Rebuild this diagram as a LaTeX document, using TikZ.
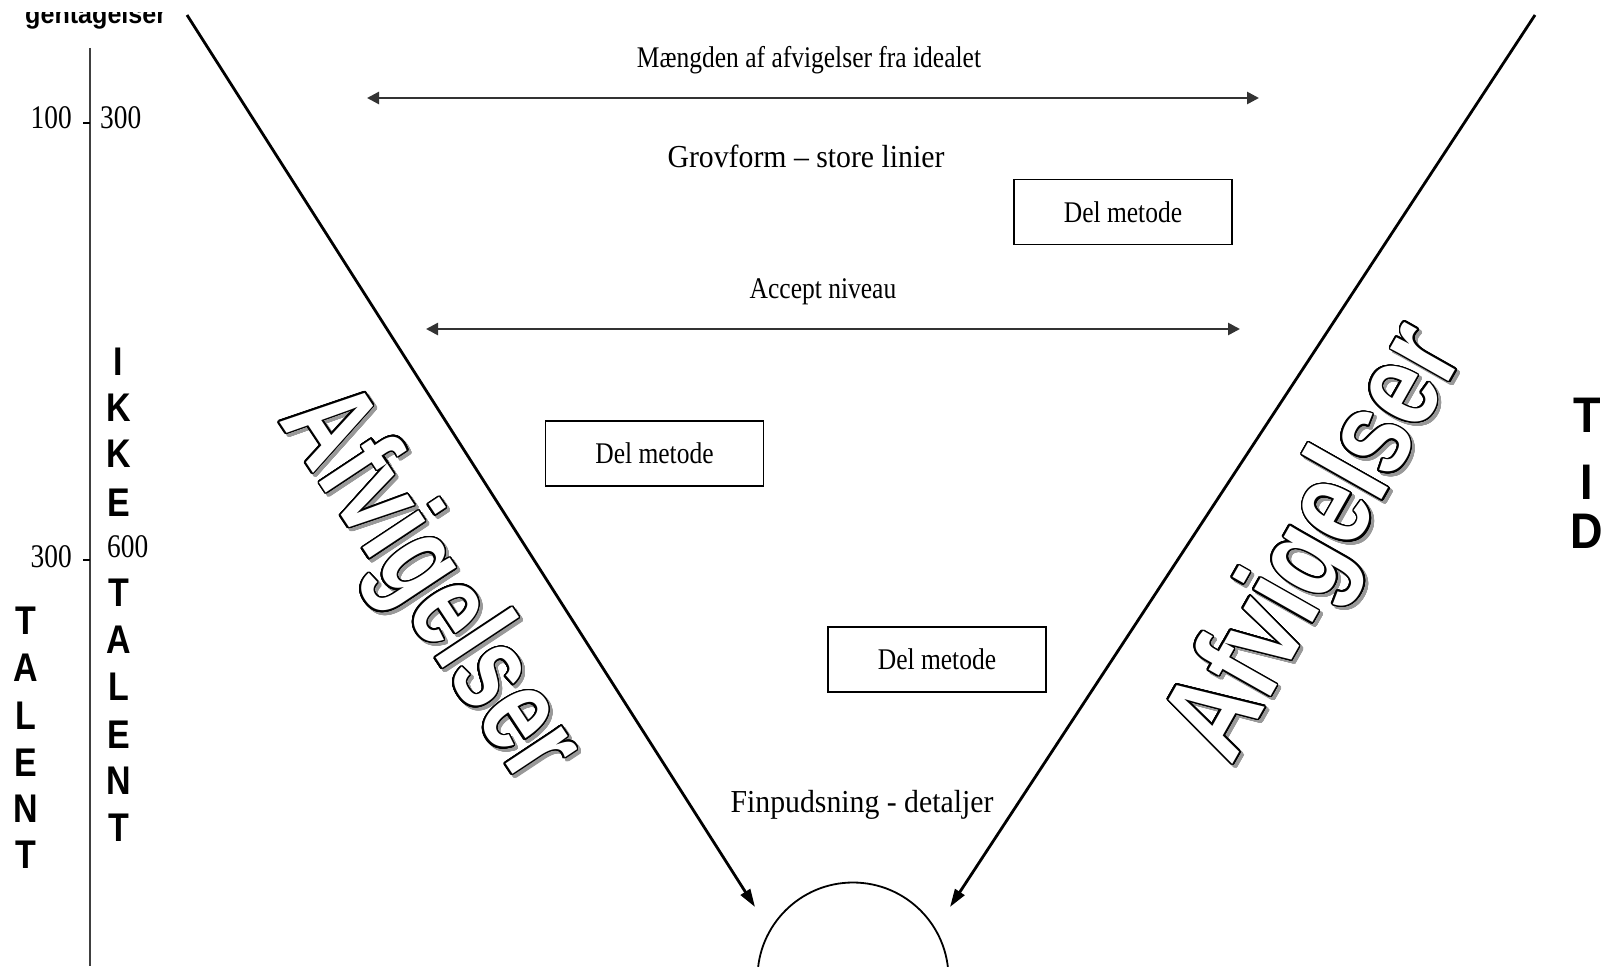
\documentclass[tikz,border=0pt]{standalone}
\usepackage{fontspec}
\setmainfont{Liberation Serif}
\newfontfamily\arial{Liberation Sans}
\usepackage{contour}
\contourlength{1.3pt}
\contournumber{32}
\usetikzlibrary{arrows.meta}
\newcommand{\cnd}[2][.85]{\scalebox{#1}[1]{#2}}
\newcommand{\wordart}[2][.94]{\scalebox{#1}[1.32]{\contour{black}{\textcolor{white}{#2}}}}
\newcommand{\wordshadow}[2][.94]{\scalebox{#1}[1.32]{\contour{black!40}{\textcolor{black!40}{#2}}}}
\begin{document}
\begin{tikzpicture}[x=1pt,y=-1pt,
  txt/.style={inner sep=0, font=\fontsize{30}{30}\selectfont},
  bigtxt/.style={inner sep=0, font=\fontsize{32}{32}\selectfont},
  num/.style={inner sep=0, font=\fontsize{33}{33}\selectfont},
  letter/.style={inner sep=0, font=\arial\bfseries\fontsize{40}{40}\selectfont},
  bigletter/.style={inner sep=0, font=\arial\bfseries\fontsize{50}{50}\selectfont},
  stepbox/.style={draw, line width=1.6pt, minimum width=218pt, minimum height=65pt, inner sep=0, font=\fontsize{30}{30}\selectfont},
  harrow/.style={line width=2.6pt, draw=black!80, {Triangle[length=12pt,width=12pt]}-{Triangle[length=12pt,width=12pt]}},
  darrow/.style={line width=2.8pt, -{Triangle[length=18pt,width=11pt]}},
  wa/.style={inner sep=0, anchor=base, font=\arial\bfseries\fontsize{96}{96}\selectfont},
]
\useasboundingbox[fill=white] (0,0) rectangle (1616,966);
\begin{scope}
\clip (0,13) rectangle (1616,966);

% top-left cut-off word
\node[inner sep=0, anchor=base west, font=\arial\bfseries\fontsize{27}{27}\selectfont] (gent) at (25,24) {\cnd[.93]{gentagelser}};

% axis
\coordinate (axtop) at (90,48);
\coordinate (axbot) at (90,966);
\draw[line width=2.4pt, draw=black!75] (axtop) -- (axbot);
\coordinate (tk1a) at (83,123); \coordinate (tk1b) at (90,123);
\coordinate (tk2a) at (83,560); \coordinate (tk2b) at (90,560);
\draw[line width=1.5pt] (tk1a) -- (tk1b);
\draw[line width=1.5pt] (tk2a) -- (tk2b);
\node[num, anchor=east] (n100) at (72,118) {\cnd[.83]{100}};
\node[num, anchor=west] (n300a) at (100,118) {\cnd[.83]{300}};
\node[num, anchor=east] (n300b) at (72,557) {\cnd[.83]{300}};
\node[num, anchor=west] (n600) at (107,547) {\cnd[.83]{600}};

% IKKE TALENT column
\foreach \l/\y [count=\i] in {I/362,K/408,K/454,E/503,T/593,A/640,L/687,E/735,N/781,T/828}
  \node[letter] (ik\i) at (118.5,\y) {\cnd[.85]{\l}};
% TALENT column
\foreach \l/\y [count=\i] in {T/621,A/668,L/716,E/763,N/809,T/855}
  \node[letter] (tal\i) at (26,\y) {\cnd[.85]{\l}};
% TID
\foreach \l/\y [count=\i] in {T/415,I/482,D/531}
  \node[bigletter] (tid\i) at (1587,\y) {\cnd[.9]{\l}};

% texts
\node[txt] (mang) at (809,60) {\cnd{Mængden af afvigelser fra idealet}};
\node[bigtxt] (grov) at (806,156) {\cnd[.93]{Grovform – store linier}};
\node[txt] (accept) at (823,292) {\cnd{Accept niveau}};
\node[bigtxt] (finp) at (862,805) {\cnd[.93]{Finpudsning - detaljer}};

% horizontal arrows
\coordinate (a1l) at (367,98); \coordinate (a1r) at (1259,98);
\coordinate (a2l) at (426,329); \coordinate (a2r) at (1240,329);
\draw[harrow] (a1l) -- (a1r);
\draw[harrow] (a2l) -- (a2r);

% boxes
\node[stepbox] (box1) at (1123,212) {\cnd{Del metode}};
\node[stepbox] (box2) at (654.5,453.5) {\cnd{Del metode}};
\node[stepbox] (box3) at (937,659.5) {\cnd{Del metode}};

% goal circle
\node[draw, circle, line width=1.8pt, minimum size=191pt, inner sep=0] (goal) at (853,978) {};

% diagonal arrows
\coordinate (ltop) at (187,15); \coordinate (ltip) at (755,907);
\coordinate (rtop) at (1535,15); \coordinate (rtip) at (950,907);
\draw[darrow] (ltop) -- (ltip);
\draw[darrow] (rtop) -- (rtip);

% word art
\node[wa, rotate=-56.5] (afls) at (403,607) {\wordshadow[.95]{Afvigelser}};
\node[wa, rotate=-56.5] (afl) at (400,604) {\wordart[.95]{Afvigelser}};
\node[wa, rotate=60.5] (afrs) at (1351,563) {\wordshadow[1.02]{Afvigelser}};
\node[wa, rotate=60.5] (afr) at (1348,560) {\wordart[1.02]{Afvigelser}};
\end{scope}
\end{tikzpicture}
\end{document}
